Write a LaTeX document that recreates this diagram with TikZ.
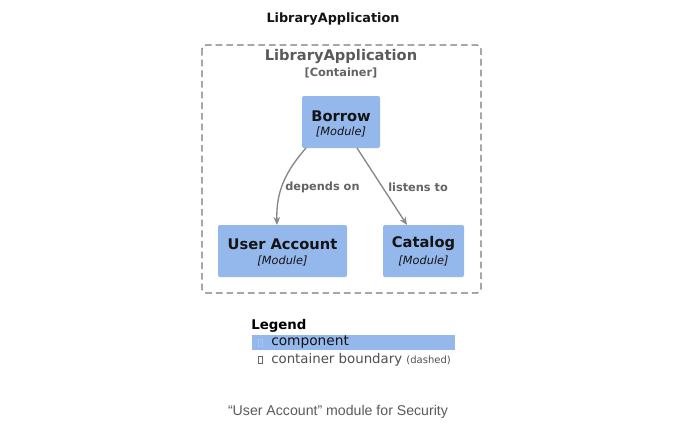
\documentclass[tikz,border=0pt]{standalone}
\usepackage{fontspec}
\setmainfont{DejaVu Sans}
\newfontfamily\capfont{Liberation Sans}
\usetikzlibrary{arrows.meta}
\definecolor{modblue}{RGB}{148,183,236}
\definecolor{bordergrey}{RGB}{120,120,120}
\definecolor{arrowgrey}{RGB}{135,135,135}
\definecolor{labelgrey}{RGB}{100,100,100}
\definecolor{textdark}{RGB}{20,20,20}
\definecolor{captiongrey}{RGB}{90,90,90}
\tikzset{
  module/.style={fill=modblue, draw=none, rounded corners=1.5pt, minimum height=52*0.75pt, inner sep=0pt},
  boundary/.style={draw=bordergrey, dashed, dash pattern=on 5pt off 3pt, line width=0.9pt, rounded corners=3pt},
  rel/.style={draw=arrowgrey, line width=1pt, -{Stealth[length=6pt,width=5pt]}},
  rellabel/.style={text=labelgrey, font=\fontsize{8.5}{10}\selectfont\bfseries, inner sep=0pt},
  modname/.style={font=\fontsize{11}{13}\selectfont\bfseries, text=textdark},
  modtype/.style={font=\fontsize{8.5}{10}\selectfont\itshape, text=textdark}
}
\begin{document}
\begin{tikzpicture}[x=0.75pt,y=-0.75pt]
\useasboundingbox (0,0) rectangle (680,422);
\fill[white] (0,0) rectangle (680,422);
% title
\node[font=\fontsize{9.6}{12}\selectfont\bfseries, text=textdark] (title) at (333,19) {LibraryApplication};
% boundary
\draw[boundary] (202,45) rectangle (481,293);
\node[font=\fontsize{11}{13}\selectfont\bfseries, text=labelgrey!90!black] (ctitle) at (341,57) {LibraryApplication};
\node[font=\fontsize{8.5}{10}\selectfont\bfseries, text=labelgrey] (ctype) at (341,73) {[Container]};
% modules
\node[module, minimum width=78*0.75pt] (borrow) at (341,122) {};
\node[modname] (borrowname) at (341,116) {Borrow};
\node[modtype] (borrowtype) at (341,132) {[Module]};
\node[module, minimum width=129*0.75pt] (user) at (282.5,251) {};
\node[modname] (username) at (282.5,244) {User Account};
\node[modtype] (usertype) at (282.5,261) {[Module]};
\node[module, minimum width=81*0.75pt] (catalog) at (423.5,251) {};
\node[modname] (catalogname) at (423.5,244) {Catalog};
\node[modtype] (catalogtype) at (423.5,261) {[Module]};
% relations
\coordinate (a1) at (306,148);
\coordinate (a2) at (277,225);
\draw[rel] (a1) .. controls (285,172) and (276,192) .. (a2);
\node[rellabel, anchor=west] (l1) at (285,187) {depends on};
\coordinate (b1) at (357,148);
\coordinate (b2) at (407,225);
\draw[rel] (b1) -- (b2);
\node[rellabel, anchor=west] (l2) at (388,187) {listens to};
% legend
\node[font=\fontsize{10}{12}\selectfont\bfseries, text=black, anchor=west, inner sep=0pt] (leg) at (251,326) {Legend};
\fill[modblue] (252,334.5) rectangle (455,350);
\draw[modblue!80!white, line width=0.6pt] (258.5,339) rectangle (262,346);
\node[font=\fontsize{10.3}{12}\selectfont, text=textdark, anchor=west, inner sep=0pt] (legc) at (271,342.5) {component};
\draw[labelgrey, line width=0.6pt] (258.5,356.5) rectangle (262,363.5);
\node[font=\fontsize{10}{12}\selectfont, text=labelgrey!80!black, anchor=west, inner sep=0pt] (legb) at (271,360) {container boundary \fontsize{7.5}{8}\selectfont(dashed)};
% caption
\node[font=\capfont\fontsize{10.6}{12}\selectfont, text=captiongrey] (cap) at (338,412) {“User Account” module for Security};
\end{tikzpicture}
\end{document}
